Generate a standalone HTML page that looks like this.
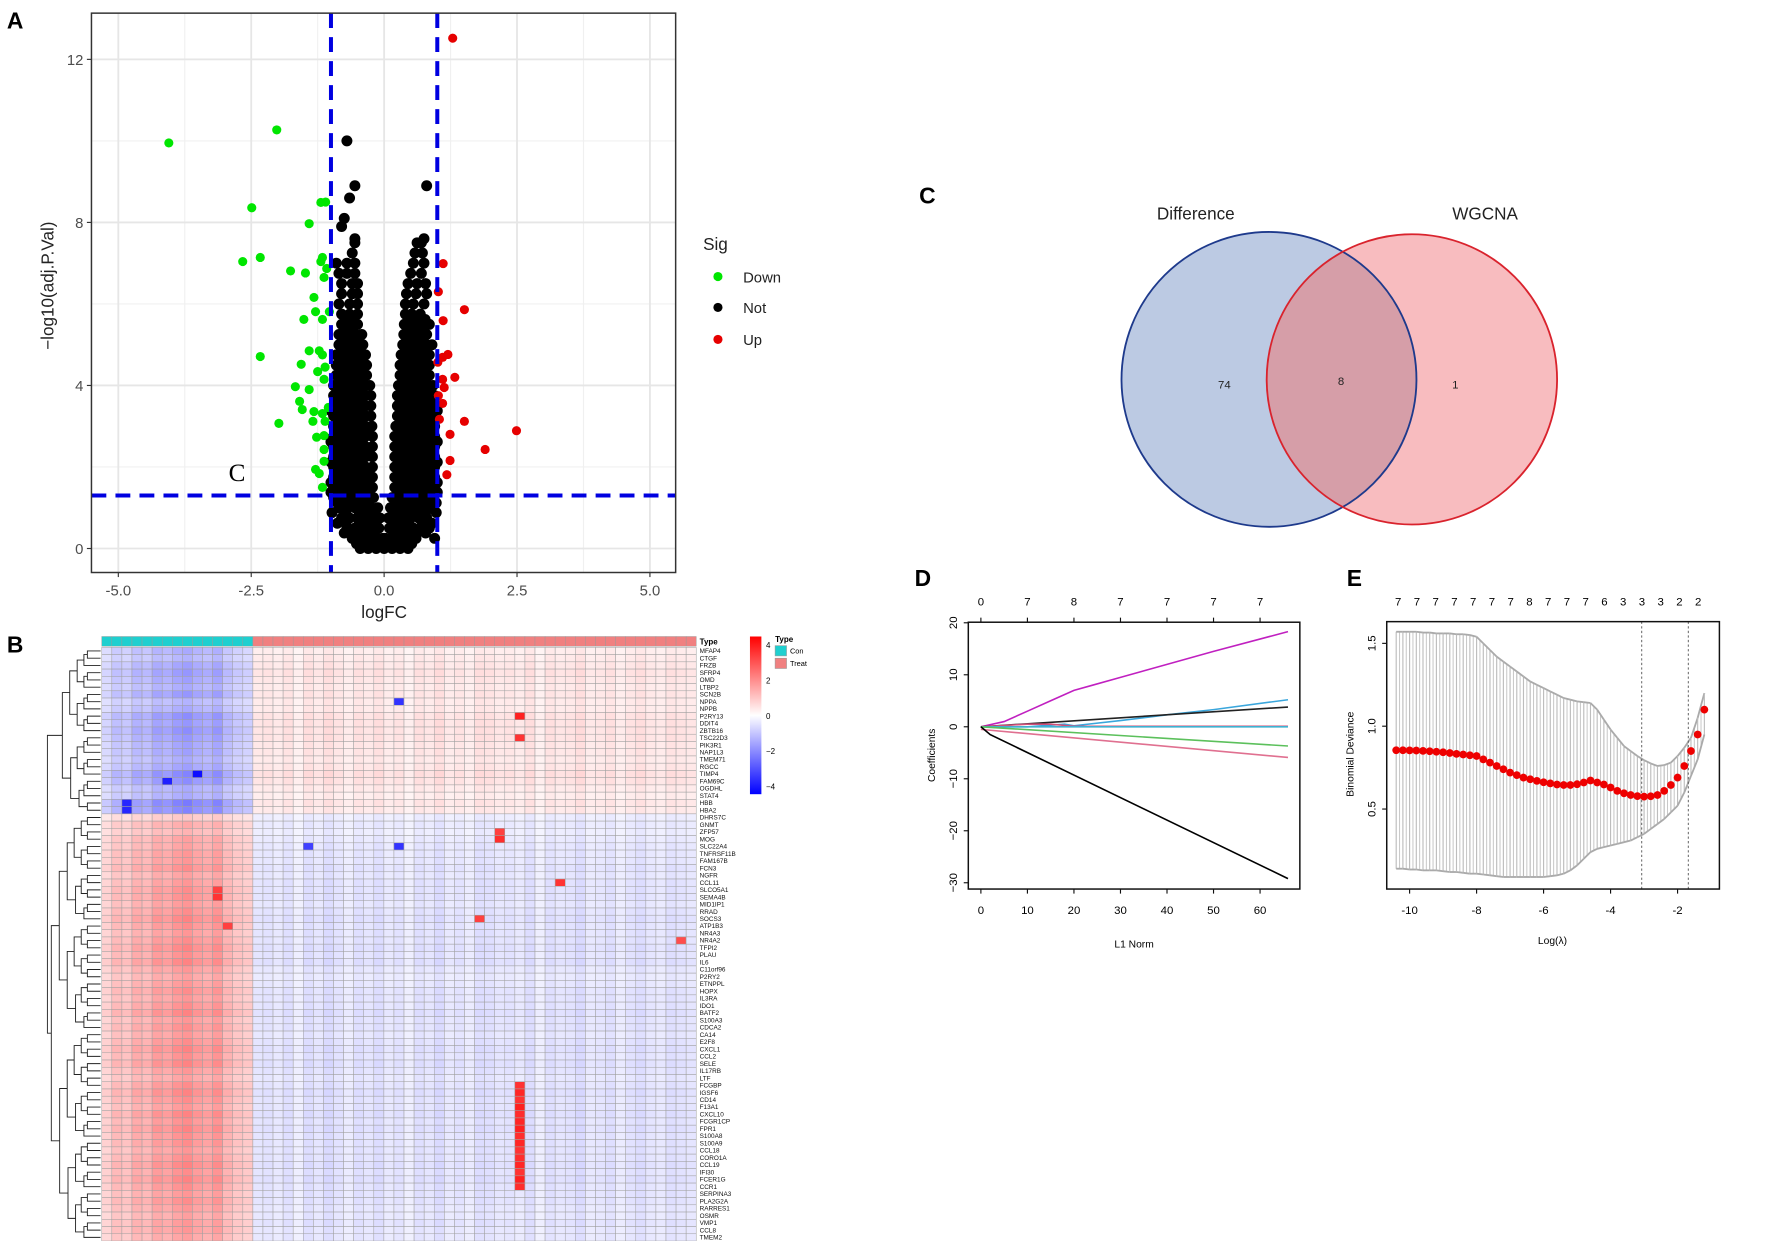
<!DOCTYPE html>
<html><head><meta charset="utf-8"><style>
html,body{margin:0;padding:0;background:#fff;}
svg{display:block;font-family:"Liberation Sans",Arial,sans-serif;}
</style></head><body>
<svg id="fig" width="1772" height="1241" viewBox="0 0 1550 1086" preserveAspectRatio="none" xmlns="http://www.w3.org/2000/svg">
<rect x="0" y="0" width="1550" height="1086" fill="#fff"/>
<g id="pA"></g>
<g id="pB"></g>
<g id="pC"></g>
<g id="pD"></g>
<g id="pE"></g>
</svg>
<script>
// ===== Panel A data =====
const downX=[-2.02,-4.05,-2.49,-1.19,-1.1,-1.41,-2.66,-2.33,-1.19,-1.16,-1.76,-1.48,-1.13,-1.08,-1.32,-1.29,-1.51,-1.16,-1.03,-2.33,-1.41,-1.22,-1.56,-1.16,-1.11,-1.25,-1.67,-1.41,-1.13,-1.59,-1.54,-1.32,-1.16,-1.05,-1.98,-1.34,-1.11,-1.13,-1.27,-1.13,-1.13,-1.29,-1.22,-1.16];
const downY=[10.27,9.95,8.36,8.49,8.5,7.97,7.04,7.14,7.04,7.14,6.81,6.76,6.65,6.87,6.16,5.81,5.62,5.62,5.81,4.71,4.85,4.85,4.52,4.75,4.45,4.34,3.97,3.9,4.15,3.61,3.41,3.36,3.31,3.46,3.07,3.12,3.12,2.77,2.73,2.43,2.14,1.94,1.84,1.5];
const upX=[1.29,1.11,1.51,1.11,1.02,1.2,1.1,1.01,1.33,1.1,1.13,1.02,1.1,1.04,1.51,2.49,1.24,1.9,1.24,1.18];
const upY=[12.52,6.99,5.86,5.59,6.3,4.76,4.69,4.57,4.2,4.15,3.95,3.75,3.56,3.17,3.12,2.89,2.8,2.43,2.16,1.81];
const notRows=[
[0,[-0.45,-0.3,-0.15,0,0.15,0.3,0.45]],
[0.25,[-0.6,-0.45,-0.3,-0.15,-0.03,0.03,0.15,0.3,0.45,0.6,0.95]],
[0.5,[-0.7,-0.55,-0.4,-0.25,-0.1,0.1,0.25,0.4,0.55,0.7,0.85]],
[0.75,[-0.8,-0.65,-0.5,-0.35,-0.2,-0.08,0.08,0.2,0.35,0.5,0.65,0.8]],
[1.0,[-0.85,-0.7,-0.55,-0.4,-0.25,-0.12,0.12,0.25,0.4,0.55,0.7,0.85,0.9]],
[1.25,[-0.95,-0.8,-0.65,-0.5,-0.35,-0.2,0.15,0.3,0.45,0.6,0.75,0.9]],
[1.5,[-0.95,-0.8,-0.65,-0.5,-0.35,-0.22,0.2,0.35,0.5,0.65,0.8,0.95]],
[1.75,[-0.95,-0.8,-0.65,-0.5,-0.35,-0.22,0.2,0.35,0.5,0.65,0.8,0.95]],
[2.0,[-0.95,-0.8,-0.65,-0.5,-0.35,-0.22,0.2,0.35,0.5,0.65,0.8,0.95]],
[2.25,[-0.95,-0.8,-0.65,-0.5,-0.35,-0.22,0.2,0.35,0.5,0.65,0.8,0.95]],
[2.5,[-0.95,-0.8,-0.65,-0.5,-0.35,-0.22,0.2,0.35,0.5,0.65,0.8,0.95]],
[2.75,[-0.95,-0.8,-0.65,-0.5,-0.35,-0.22,0.2,0.35,0.5,0.65,0.8,0.95]],
[3.0,[-0.95,-0.8,-0.65,-0.5,-0.35,-0.23,0.22,0.35,0.5,0.65,0.8,0.95]],
[3.25,[-0.95,-0.8,-0.65,-0.5,-0.35,-0.25,0.25,0.38,0.5,0.65,0.8,0.95]],
[3.5,[-0.95,-0.8,-0.65,-0.5,-0.35,-0.25,0.25,0.38,0.5,0.65,0.8,0.95]],
[3.75,[-0.95,-0.8,-0.65,-0.5,-0.35,-0.25,0.25,0.38,0.5,0.65,0.8,0.95]],
[4.0,[-0.95,-0.8,-0.65,-0.5,-0.35,-0.27,0.27,0.38,0.5,0.65,0.8,0.92]],
[4.25,[-0.9,-0.75,-0.6,-0.45,-0.33,0.3,0.42,0.55,0.7,0.85]],
[4.5,[-0.9,-0.75,-0.6,-0.45,-0.33,0.3,0.42,0.55,0.7,0.85]],
[4.75,[-0.9,-0.75,-0.6,-0.45,-0.35,0.32,0.44,0.57,0.7,0.85]],
[5.0,[-0.85,-0.7,-0.55,-0.4,0.35,0.5,0.65,0.8,0.9]],
[5.25,[-0.85,-0.7,-0.55,-0.42,0.37,0.5,0.65,0.8]],
[5.5,[-0.8,-0.65,-0.5,0.38,0.52,0.7,0.85]],
[5.75,[-0.8,-0.65,-0.5,0.4,0.52,0.68]],
[6.0,[-0.85,-0.65,-0.5,0.4,0.55,0.75]],
[6.25,[-0.8,-0.6,-0.5,0.42,0.6,0.8]],
[6.5,[-0.8,-0.6,-0.5,0.45,0.62,0.78]],
[6.75,[-0.85,-0.7,-0.55,0.5,0.7]],
[7.0,[-0.9,-0.7,-0.55,0.55,0.75]],
[7.25,[-0.6,0.58,0.72]],
[7.5,[-0.55,0.62,0.7]],
[7.6,[-0.55,0.75]],
[7.9,[-0.8]],[8.1,[-0.75]],[8.6,[-0.65]],[8.9,[-0.55,0.8]],[10.0,[-0.7]]];
const notRows2=[
[0.12,[-0.52,-0.37,-0.22,-0.08,0.08,0.22,0.37,0.52]],
[0.38,[-0.75,-0.62,-0.47,-0.32,-0.18,0.18,0.32,0.47,0.62,0.78]],
[0.62,[-0.88,-0.72,-0.47,-0.32,-0.15,0.15,0.32,0.47,0.72,0.9]],
[0.88,[-0.98,-0.72,-0.47,-0.3,-0.17,0.17,0.3,0.47,0.62,0.78,0.98]],
[1.12,[-0.88,-0.72,-0.57,-0.42,-0.28,0.22,0.37,0.52,0.68,0.82,0.98]],
[1.38,[-1.0,-0.87,-0.72,-0.57,-0.42,-0.28,0.27,0.42,0.57,0.72,0.87,1.0]],
[1.62,[-1.0,-0.87,-0.72,-0.57,-0.42,-0.28,0.27,0.42,0.57,0.72,0.87,1.0]],
[1.88,[-0.87,-0.72,-0.57,-0.42,-0.28,0.27,0.42,0.57,0.72,0.87]],
[2.12,[-1.0,-0.87,-0.72,-0.57,-0.42,0.27,0.42,0.57,0.72,0.87,1.0]],
[2.38,[-0.87,-0.72,-0.57,-0.42,-0.28,0.27,0.42,0.57,0.72,0.87]],
[2.62,[-1.0,-0.87,-0.72,-0.57,-0.42,0.27,0.42,0.57,0.72,0.87,1.0]],
[2.88,[-0.87,-0.72,-0.57,-0.42,-0.3,0.28,0.42,0.57,0.72,0.87]],
[3.12,[-0.87,-0.72,-0.57,-0.42,0.3,0.44,0.57,0.72,0.87]],
[3.38,[-1.0,-0.87,-0.72,-0.57,-0.42,0.3,0.44,0.57,0.72,0.87,1.0]],
[3.62,[-0.87,-0.72,-0.57,-0.42,0.3,0.44,0.57,0.72,0.87]],
[3.88,[-0.87,-0.72,-0.57,-0.42,0.32,0.44,0.57,0.72,0.87]],
[4.12,[-0.82,-0.68,-0.52,-0.4,0.35,0.48,0.62,0.78]],
[4.38,[-0.82,-0.68,-0.52,-0.4,0.36,0.48,0.62,0.78]],
[4.62,[-0.82,-0.68,-0.52,-0.4,0.38,0.5,0.62,0.78]],
[4.88,[-0.78,-0.62,-0.48,0.42,0.57,0.72]],
[5.12,[-0.78,-0.62,-0.48,0.43,0.57,0.72]],
[5.38,[-0.75,-0.58,0.45,0.6,0.75]],
[5.62,[-0.72,-0.58,0.45,0.6,0.77]]];
const volcXTicks=[-5,-2.5,0,2.5,5];
const volcXTickLabels=["-5.0","-2.5","0.0","2.5","5.0"];
const volcYTicks=[0,4,8,12];

// ===== Panel B data =====
const genes=["MFAP4","CTGF","FRZB","SFRP4","OMD","LTBP2","SCN2B","NPPA","NPPB","P2RY13","DDIT4","ZBTB16","TSC22D3","PIK3R1","NAP1L3","TMEM71","RGCC","TIMP4","FAM69C","OGDHL","STAT4","HBB","HBA2","DHRS7C","GNMT","ZFP57","MOG","SLC22A4","TNFRSF11B","FAM167B","FCN3","NGFR","CCL11","SLCO5A1","SEMA4B","MID1IP1","RRAD","SOCS3","ATP1B3","NR4A3","NR4A2","TFPI2","PLAU","IL6","C11orf96","P2RY2","ETNPPL","HOPX","IL3RA","IDO1","BATF2","S100A3","CDCA2","CA14","E2F8","CXCL1","CCL2","SELE","IL17RB","LTF","FCGBP","IGSF6","CD14","F13A1","CXCL10","FCGR1CP","FPR1","S100A8","S100A9","CCL18","CORO1A","CCL19","IFI30","FCER1G","CCR1","SERPINA3","PLA2G2A","RARRES1","OSMR","VMP1","CCL8","TMEM2"];
const conMean=[-0.9,-0.8,-1.0,-1.1,-1.0,-0.9,-1.1,-0.8,-0.9,-1.2,-1.1,-1.2,-1.1,-1.0,-1.0,-0.9,-1.0,-1.3,-1.2,-0.9,-0.9,-1.4,-1.3,0.6,0.9,0.8,1.0,1.0,1.1,1.1,1.2,1.0,1.1,1.2,1.2,1.1,1.2,1.3,1.2,1.1,1.2,1.3,1.2,1.3,1.1,1.0,1.1,1.2,1.1,1.2,1.3,1.1,1.2,1.1,1.2,1.3,1.2,1.3,1.1,1.0,1.2,1.3,1.2,1.1,1.3,1.2,1.3,1.2,1.2,1.1,1.2,1.3,1.2,1.3,1.2,1.1,1.2,1.1,1.0,1.1,1.1,1.0];
const treatMean=[0.3,0.35,0.4,0.45,0.4,0.35,0.4,0.35,0.35,0.45,0.45,0.45,0.45,0.4,0.4,0.35,0.4,0.5,0.45,0.35,0.3,0.4,0.35,-0.3,-0.35,-0.3,-0.35,-0.4,-0.4,-0.4,-0.45,-0.4,-0.45,-0.45,-0.45,-0.4,-0.45,-0.5,-0.45,-0.45,-0.45,-0.5,-0.45,-0.5,-0.4,-0.35,-0.4,-0.45,-0.45,-0.45,-0.5,-0.45,-0.45,-0.4,-0.45,-0.5,-0.45,-0.5,-0.45,-0.4,-0.45,-0.5,-0.45,-0.45,-0.5,-0.45,-0.5,-0.45,-0.45,-0.45,-0.45,-0.5,-0.45,-0.5,-0.45,-0.45,-0.45,-0.4,-0.4,-0.45,-0.4,-0.4];
const conScale=[0.6,0.9,0.8,1.1,1.0,1.3,1.2,1.4,1.5,1.3,1.2,1.4,1.0,0.8,0.7];
const treatScale=[0.9,1.0,0.8,1.1,0.6,1.2,0.9,1.3,1.0,0.7,1.1,0.9,1.2,0.8,1.0,0.6,1.1,0.9,1.3,0.8,1.0,0.7,1.2,1.1,0.9,1.0,0.8,1.2,0.6,1.1,0.9,1.0,1.3,0.8,0.9,1.1,0.7,1.0,1.2,0.9,0.8,1.1,1.0,0.9];
const hotCells=[[9,41,3.5],[12,41,3.2],[25,39,3.0],[26,39,3.3],[32,45,3.2],[37,37,3.0],[33,11,3.0],[34,11,3.2],[38,12,3.0],[40,57,2.8],[60,41,3.2],[61,41,3.4],[62,41,3.2],[63,41,3.5],[64,41,3.3],[65,41,3.4],[66,41,3.5],[67,41,3.3],[68,41,3.4],[69,41,3.2],[70,41,3.3],[71,41,3.4],[72,41,3.2],[73,41,3.5],[74,41,3.3],[7,29,-3.2],[17,9,-3.8],[18,6,-3.5],[21,2,-3.4],[22,2,-3.4],[27,20,-3.0],[27,29,-3.2]];
const scaleTicks=[4,2,0,-2,-4];

// ===== Panel D data =====
const l1Ticks=[0,10,20,30,40,50,60];
const dfTop=["0","7","8","7","7","7","7"];
const coefYTicks=[20,10,0,-10,-20,-30];
const pathColors=["#c020c0","#3aa6dc","#222222","#d0507a","#40b0d0","#5cc05c","#e07090","#000000"];
const pathX=[[0,5,10,15,20,24,30,40,50,66],[0,10,18,20,30,40,50,66],[0,66],[0,10,15,20,66],[0,66],[0,66],[0,66],[0,2,66]];
const pathY=[[0,1,3,5,7,8,9.5,12,14.5,18.3],[0,0,0.5,0.2,1.2,2.3,3.3,5.2],[0,3.8],[0,0.5,0.5,0.1,0.1],[0,0],[0,-3.7],[-0.5,-5.9],[0,-1.5,-29.2]];

// ===== Panel E data =====
const logLam=[-10.4,-10.2,-10.0,-9.8,-9.6,-9.4,-9.2,-9.0,-8.8,-8.6,-8.4,-8.2,-8.0,-7.8,-7.6,-7.4,-7.2,-7.0,-6.8,-6.6,-6.4,-6.2,-6.0,-5.8,-5.6,-5.4,-5.2,-5.0,-4.8,-4.6,-4.4,-4.2,-4.0,-3.8,-3.6,-3.4,-3.2,-3.0,-2.8,-2.6,-2.4,-2.2,-2.0,-1.8,-1.6,-1.4,-1.2];
const devMean=[.855,.855,.854,.853,.851,.849,.846,.843,.838,.833,.829,.825,.82,.80,.78,.76,.74,.72,.705,.69,.68,.67,.662,.655,.648,.645,.645,.65,.66,.672,.66,.648,.63,.61,.595,.585,.578,.575,.577,.585,.61,.645,.69,.76,.85,.95,1.10];
const devUp=[1.57,1.57,1.57,1.57,1.565,1.565,1.56,1.56,1.56,1.555,1.555,1.55,1.54,1.5,1.46,1.42,1.39,1.36,1.33,1.3,1.27,1.25,1.23,1.21,1.19,1.17,1.16,1.15,1.145,1.14,1.1,1.04,0.98,0.93,0.88,0.85,0.82,0.795,0.775,0.76,0.765,0.78,0.82,0.87,0.93,1.05,1.2];
const devLo=[.14,.14,.135,.135,.13,.13,.13,.125,.12,.12,.115,.11,.11,.105,.1,.095,.09,.09,.09,.09,.09,.09,.09,.095,.1,.11,.13,.16,.2,.24,.26,.27,.28,.29,.30,.31,.33,.35,.38,.41,.44,.48,.52,.6,.7,.8,.95];
const eXTicks=[-10,-8,-6,-4,-2];
const eYTicks=[0.5,1.0,1.5];
const eTopNums=["7","7","7","7","7","7","7","8","7","7","7","6","3","3","3","2","2"];
const lamMin=-3.07, lam1se=-1.68;

const NS="http://www.w3.org/2000/svg";
function mk(parent,tag,attrs,text){const e=document.createElementNS(NS,tag);for(const k in attrs)e.setAttribute(k,attrs[k]);if(text!==undefined)e.textContent=text;parent.appendChild(e);return e;}

// ---------- Panel A ----------
(function(){
const g=document.getElementById('pA');
const L=80,R=591,T=11.5,B=501;
const xs=v=>336+v*46.5, ys=v=>480-v*35.67;
let t=mk(g,'text',{x:6,y:25,'font-size':20,'font-weight':'bold'},'A');

mk(g,'rect',{x:L,y:T,width:R-L,height:B-T,fill:'#fff'});
[-3.75,-1.25,1.25,3.75].forEach(v=>mk(g,'line',{x1:xs(v),x2:xs(v),y1:T,y2:B,stroke:'#f0f0f0','stroke-width':1}));
[2,6,10].forEach(v=>mk(g,'line',{x1:L,x2:R,y1:ys(v),y2:ys(v),stroke:'#f0f0f0','stroke-width':1}));
volcXTicks.forEach((v,i)=>{mk(g,'line',{x1:xs(v),x2:xs(v),y1:T,y2:B,stroke:'#e6e6e6','stroke-width':1.6});
 mk(g,'line',{x1:xs(v),x2:xs(v),y1:B,y2:B+4,stroke:'#333'});
 const tl=mk(g,'text',{x:xs(v),y:B+20,'font-size':13,fill:'#4d4d4d','text-anchor':'middle'},volcXTickLabels[i]);
 });
volcYTicks.forEach(v=>{mk(g,'line',{x1:L,x2:R,y1:ys(v),y2:ys(v),stroke:'#e6e6e6','stroke-width':1.6});
 mk(g,'line',{x1:L-4,x2:L,y1:ys(v),y2:ys(v),stroke:'#333'});
 const tl=mk(g,'text',{x:L-7,y:ys(v)+5,'font-size':13,fill:'#4d4d4d','text-anchor':'end'},String(v));
 });
const pts=mk(g,'g',{});

notRows.concat(notRows2).forEach(r=>r[1].forEach(x=>mk(pts,'circle',{cx:xs(x),cy:ys(r[0]),r:4.8,fill:'#000'})));
const gd=mk(g,'g',{});
downX.forEach((x,i)=>mk(gd,'circle',{cx:xs(x),cy:ys(downY[i]),r:4,fill:'#00e600'}));
const gu=mk(g,'g',{});
upX.forEach((x,i)=>mk(gu,'circle',{cx:xs(x),cy:ys(upY[i]),r:4,fill:'#e60000'}));
[-1,1].forEach(v=>{const l=mk(g,'line',{x1:xs(v),x2:xs(v),y1:T,y2:B,stroke:'#0000e0','stroke-width':3.5,'stroke-dasharray':'13,8'});
 });
const hl=mk(g,'line',{x1:L,x2:R,y1:ys(1.3),y2:ys(1.3),stroke:'#0000e0','stroke-width':3.5,'stroke-dasharray':'13,8'});

mk(g,'rect',{x:L,y:T,width:R-L,height:B-T,fill:'none',stroke:'#333','stroke-width':1.3});
t=mk(g,'text',{x:200,y:421,'font-size':22,'font-family':'Liberation Serif,serif'},'C');

t=mk(g,'text',{x:336,y:541,'font-size':15,fill:'#222','text-anchor':'middle'},'logFC');

t=mk(g,'text',{x:0,y:0,'font-size':15,fill:'#222','text-anchor':'middle',transform:'translate(47,250) rotate(-90)'},'\u2212log10(adj.P.Val)');

const lg=mk(g,'g',{});
mk(lg,'text',{x:615,y:219,'font-size':15,fill:'#222'},'Sig');
[['Down','#00e600',242],['Not','#000',269],['Up','#e60000',297]].forEach(a=>{
 const e=mk(lg,'g',{});
 mk(e,'circle',{cx:628,cy:a[2],r:4,fill:a[1]});mk(e,'text',{x:650,y:a[2]+5,'font-size':13,fill:'#222'},a[0]);});
})();

// ---------- Panel B ----------
(function(){
const g=document.getElementById('pB');
let t=mk(g,'text',{x:6,y:571,'font-size':20,'font-weight':'bold'},'B');

const X0=89,X1=609,Y0=566.5,Y1=1086,nC=conScale.length,nT=treatScale.length,N=nC+nT;
const cw=(X1-X0)/N,rh=(Y1-Y0)/genes.length;
function col(v){v=Math.max(-4,Math.min(4,v));const t=Math.abs(v)/4;const o=Math.round(255*(1-t));
 return v>=0?`rgb(255,${o},${o})`:`rgb(${o},${o},255)`;}
const tb=mk(g,'g',{});
for(let j=0;j<N;j++)mk(tb,'rect',{x:X0+j*cw,y:557,width:cw,height:8.5,fill:j<nC?'#1fcfcf':'#f08080',stroke:'#999','stroke-width':0.4});
mk(g,'text',{x:612,y:564,'font-size':7,'font-weight':'bold'},'Type');
const vals=genes.map((gn,i)=>{const r=[];for(let j=0;j<N;j++)r.push(j<nC?conMean[i]*conScale[j]:treatMean[i]*treatScale[j-nC]);return r;});
hotCells.forEach(h=>{vals[h[0]][h[1]]=h[2];});
const cells=mk(g,'g',{});
vals.forEach((r,i)=>r.forEach((v,j)=>mk(cells,'rect',{x:X0+j*cw,y:Y0+i*rh,width:cw,height:rh,fill:col(v),stroke:'#a0a0a0','stroke-width':0.45})));
const gl=mk(g,'g',{});
genes.forEach((gn,i)=>mk(gl,'text',{x:612,y:Y0+i*rh+rh*0.8,'font-size':5.6,fill:'#111'},gn));
const dg=mk(g,'g',{});
function node(lo,hi){if(lo===hi){return {y:Y0+lo*rh+rh/2,x:88};}
 const split=(lo===0&&hi===genes.length-1)?22:Math.floor((lo+hi)/2);
 const a=node(lo,split),b=node(split+1,hi);const x=88-7.3*Math.log2(hi-lo+2);
 mk(dg,'path',{d:`M${a.x},${a.y}H${x}V${b.y}H${b.x}`,fill:'none',stroke:'#222','stroke-width':0.8});
 return {y:(a.y+b.y)/2,x:x};}
node(0,genes.length-1);
const cs=mk(g,'g',{});
const defs=mk(g,'defs',{});const lgd=mk(defs,'linearGradient',{id:'hg',x1:0,y1:0,x2:0,y2:1});
mk(lgd,'stop',{offset:'0','stop-color':'#ff0000'});mk(lgd,'stop',{offset:'0.5','stop-color':'#ffffff'});mk(lgd,'stop',{offset:'1','stop-color':'#0000ff'});
mk(cs,'rect',{x:656,y:557,width:10,height:138,fill:'url(#hg)'});
const sy=v=>626-v*15.5;
scaleTicks.forEach(v=>mk(cs,'text',{x:670,y:sy(v)+3,'font-size':7},v<0?'\u2212'+(-v):String(v)));
const tl=mk(g,'g',{});
mk(tl,'text',{x:678,y:562,'font-size':7,'font-weight':'bold'},'Type');
mk(tl,'rect',{x:678,y:565,width:10,height:9,fill:'#1fcfcf',stroke:'#999','stroke-width':0.5});
mk(tl,'text',{x:691,y:572,'font-size':6.5},'Con');
mk(tl,'rect',{x:678,y:576,width:10,height:9,fill:'#f08080',stroke:'#999','stroke-width':0.5});
mk(tl,'text',{x:691,y:583,'font-size':6.5},'Treat');
})();

// ---------- Panel C ----------
(function(){
const g=document.getElementById('pC');
let t=mk(g,'text',{x:804,y:178,'font-size':20,'font-weight':'bold'},'C');

const defs=mk(g,'defs',{});const cp=mk(defs,'clipPath',{id:'cb'});mk(cp,'circle',{cx:1110,cy:332,r:129});
let c=mk(g,'circle',{cx:1110,cy:332,r:129,fill:'#bccae3'});
c=mk(g,'circle',{cx:1235,cy:332,r:127,fill:'#f8bcbf'});
c=mk(g,'circle',{cx:1235,cy:332,r:127,fill:'#d69ea8','clip-path':'url(#cb)'});
mk(g,'circle',{cx:1110,cy:332,r:129,fill:'none',stroke:'#1e3a8c','stroke-width':1.6});
mk(g,'circle',{cx:1235,cy:332,r:127,fill:'none',stroke:'#d9232d','stroke-width':1.6});
[['Difference',1046,192,15,'venn-label-difference'],['WGCNA',1299,192,15,'venn-label-wgcna'],['74',1071,340,10,'count-74'],['8',1173,337,10,'count-8'],['1',1273,340,10,'count-1']].forEach(a=>{
 const e=mk(g,'text',{x:a[1],y:a[2],'font-size':a[3],'text-anchor':'middle',fill:'#222'},a[0]);});
})();

// ---------- Panel D ----------
(function(){
const g=document.getElementById('pD');
let t=mk(g,'text',{x:800,y:513,'font-size':20,'font-weight':'bold'},'D');

const L=847,R=1137,T=544.5,B=778;const xs=v=>858+v*4.07,ys=v=>636-v*4.55;
mk(g,'rect',{x:L,y:T,width:R-L,height:B-T,fill:'none',stroke:'#111','stroke-width':1.3});
l1Ticks.forEach((v,i)=>{mk(g,'line',{x1:xs(v),x2:xs(v),y1:B,y2:B+4,stroke:'#111'});
 mk(g,'text',{x:xs(v),y:B+22,'font-size':10,'text-anchor':'middle'},String(v));
 mk(g,'line',{x1:xs(v),x2:xs(v),y1:T,y2:T-4,stroke:'#111'});
 mk(g,'text',{x:xs(v),y:530,'font-size':10,'text-anchor':'middle'},dfTop[i]);});
coefYTicks.forEach(v=>{mk(g,'line',{x1:L-4,x2:L,y1:ys(v),y2:ys(v),stroke:'#111'});
 mk(g,'text',{x:0,y:0,'font-size':10,'text-anchor':'middle',transform:`translate(${L-10},${ys(v)}) rotate(-90)`},v<0?'\u2212'+(-v):String(v));});
const pg=mk(g,'g',{});
pathX.forEach((xsArr,k)=>{const d=xsArr.map((x,i)=>(i?'L':'M')+xs(x)+','+ys(pathY[k][i])).join('');
 const p=mk(pg,'path',{d:d,fill:'none',stroke:pathColors[k],'stroke-width':1.4});
 });
t=mk(g,'text',{x:992,y:829,'font-size':9,'text-anchor':'middle'},'L1 Norm');
t=mk(g,'text',{x:0,y:0,'font-size':9,'text-anchor':'middle',transform:'translate(818,661) rotate(-90)'},'Coefficients');
})();

// ---------- Panel E ----------
(function(){
const g=document.getElementById('pE');
let t=mk(g,'text',{x:1178,y:513,'font-size':20,'font-weight':'bold'},'E');

const L=1213,R=1504,T=544,B=778;const xs=v=>1233+(v+10)*29.3,ys=v=>635.5-(v-1)*145;
eXTicks.forEach(v=>{mk(g,'line',{x1:xs(v),x2:xs(v),y1:B,y2:B+4,stroke:'#111'});
 mk(g,'text',{x:xs(v),y:B+22,'font-size':10,'text-anchor':'middle'},String(v));});
eYTicks.forEach(v=>{mk(g,'line',{x1:L-4,x2:L,y1:ys(v),y2:ys(v),stroke:'#111'});
 mk(g,'text',{x:0,y:0,'font-size':10,'text-anchor':'middle',transform:`translate(${L-10},${ys(v)}) rotate(-90)`},v.toFixed(1));});
eTopNums.forEach((s,i)=>mk(g,'text',{x:1223+i*16.4,y:530,'font-size':10,'text-anchor':'middle'},s));
const eb=mk(g,'g',{});
logLam.forEach((x,i)=>{
 mk(eb,'line',{x1:xs(x),x2:xs(x),y1:ys(devUp[i]),y2:ys(devLo[i]),stroke:'#bdbdbd','stroke-width':1});
 if(i<logLam.length-1){const xm=(x+logLam[i+1])/2,um=(devUp[i]+devUp[i+1])/2,lm=(devLo[i]+devLo[i+1])/2;
  mk(eb,'line',{x1:xs(xm),x2:xs(xm),y1:ys(um),y2:ys(lm),stroke:'#c8c8c8','stroke-width':0.9});
  mk(eb,'line',{x1:xs(x),x2:xs(logLam[i+1]),y1:ys(devUp[i]),y2:ys(devUp[i+1]),stroke:'#aaa','stroke-width':1.6});
  mk(eb,'line',{x1:xs(x),x2:xs(logLam[i+1]),y1:ys(devLo[i]),y2:ys(devLo[i+1]),stroke:'#aaa','stroke-width':1.6});}
});
[lamMin,lam1se].forEach(v=>{const l=mk(g,'line',{x1:xs(v),x2:xs(v),y1:T,y2:B,stroke:'#555','stroke-width':0.8,'stroke-dasharray':'2,2'});
 });
const rd=mk(g,'g',{});
logLam.forEach((x,i)=>mk(rd,'circle',{cx:xs(x),cy:ys(devMean[i]),r:3.4,fill:'#ee0000'}));
mk(g,'rect',{x:L,y:T,width:R-L,height:B-T,fill:'none',stroke:'#111','stroke-width':1.3});
t=mk(g,'text',{x:1358,y:826,'font-size':9,'text-anchor':'middle'},'Log(\u03bb)');
t=mk(g,'text',{x:0,y:0,'font-size':9,'text-anchor':'middle',transform:'translate(1184,660) rotate(-90)'},'Binomial Deviance');
})();
</script>
</body></html>
